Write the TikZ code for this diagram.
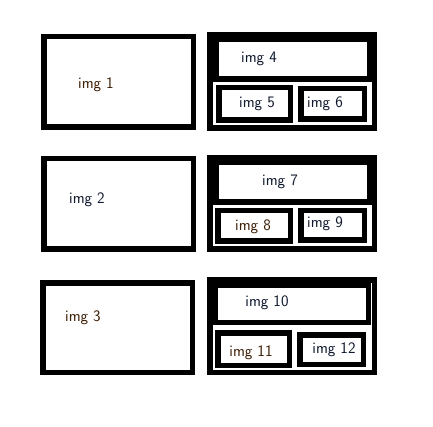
\documentclass[tikz,border=0pt]{standalone}
\definecolor{txtbrown}{RGB}{60,30,5}
\definecolor{txtnavy}{RGB}{15,25,45}
\tikzset{
  bar/.style={fill=black},
  lbl/.style={inner sep=0pt, font=\sffamily\fontsize{16}{19}\selectfont},
  lblb/.style={lbl, text=txtbrown},
  lbln/.style={lbl, text=txtnavy}
}
\begin{document}
\begin{tikzpicture}[x=1pt,y=-1pt]
\useasboundingbox[fill=white] (0,0) rectangle (433,427);
% each box: outer edges (x1,y1)-(x2,y2), sides 5.5 wide, y downward
\foreach \xa/\ya/\xb/\yb in {
  41/34/196/130, 41/156/196/252, 40/280/195/375,
  207/32/377/131, 213/37/372/82, 216/85/293/123, 298/86/367/122,
  207/155/377/252, 213/160/372/205, 215/208/293/244, 298/208/367/243,
  207/277/377/375, 212/282/371/325, 215/330/292/368, 297/332/366/367} {
  \fill[bar] (\xa,\ya) rectangle (\xb,{\ya+5.5});
  \fill[bar] (\xa,{\yb-5.5}) rectangle (\xb,\yb);
  \fill[bar] (\xa,\ya) rectangle ({\xa+5.5},\yb);
  \fill[bar] ({\xb-5.5},\ya) rectangle (\xb,\yb);
}
% labels
\node[lblb] (t1) at (96,85) {img 1};
\node[lbln] (t2) at (87,200) {img 2};
\node[lblb] (t3) at (83,318) {img 3};
\node[lbln] (t4) at (259,59) {img 4};
\node[lbln] (t5) at (257,104) {img 5};
\node[lbln] (t6) at (325,104) {img 6};
\node[lbln] (t7) at (280,182) {img 7};
\node[lblb] (t8) at (253,227) {img 8};
\node[lbln] (t9) at (325,224) {img 9};
\node[lbln] (t10) at (267,303) {img 10};
\node[lblb] (t11) at (251,353) {img 11};
\node[lbln] (t12) at (334,350) {img 12};
\end{tikzpicture}
\end{document}
